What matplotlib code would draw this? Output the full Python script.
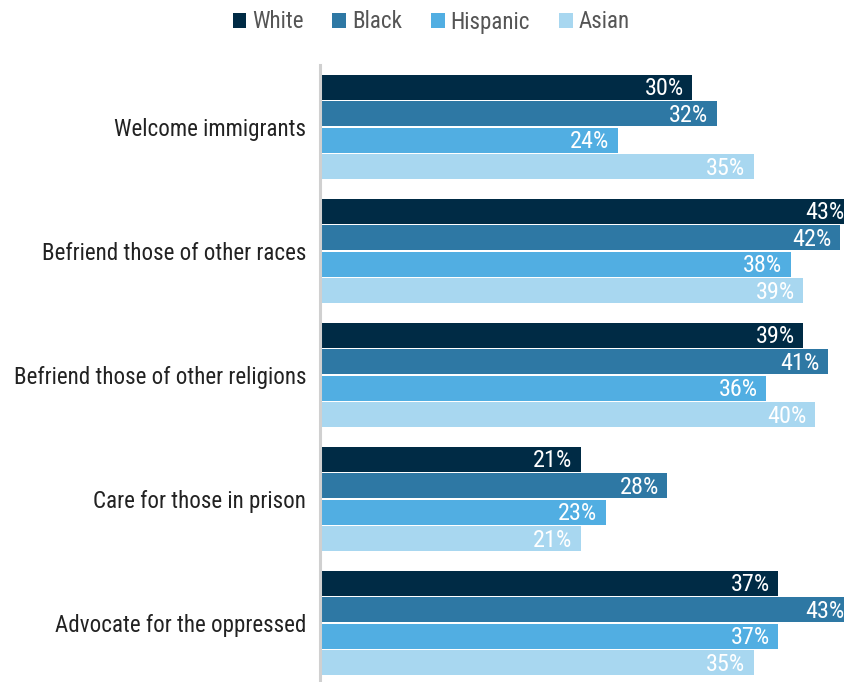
import matplotlib
matplotlib.use("Agg")
import matplotlib.pyplot as plt
import numpy as np

plt.rcParams["font.family"] = ["Roboto Condensed", "DejaVu Sans"]

categories = [
    "Welcome immigrants",
    "Befriend those of other races",
    "Befriend those of other religions",
    "Care for those in prison",
    "Advocate for the oppressed",
]
series = ["White", "Black", "Hispanic", "Asian"]
white = [30, 43, 39, 21, 37]
black = [32, 42, 41, 28, 43]
hispanic = [24, 38, 36, 23, 37]
asian = [35, 39, 40, 21, 35]
colors = ["#002b45", "#2e78a4", "#51aee2", "#a8d7f0"]

values = [white, black, hispanic, asian]

fig = plt.figure(figsize=(8.45, 6.82), dpi=100)
ax = fig.add_axes([322 / 845, 0, 1 - 322 / 845, 617 / 682])

pitch = 0.2137
height = 0.2
y = np.arange(len(categories))
for j, (name, vals, col) in enumerate(zip(series, values, colors)):
    pos = y + (j - 1.5) * pitch
    bars = ax.barh(pos, vals, height=height, color=col, label=name)
    for b, v in zip(bars, vals):
        ax.text(b.get_width() - 0.68, b.get_y() + b.get_height() / 2 + 0.012, f"{v}%",
                ha="right", va="center", color="white", fontsize=17.5)

ax.set_xlim(0, 42.4)
ax.set_ylim(4.475, -0.5012)
ax.set_yticks(y, categories)
ax.tick_params(axis="y", length=0, pad=10, labelsize=16.6, labelcolor="#222222")
ax.set_xticks([])
for s in ["top", "right", "bottom"]:
    ax.spines[s].set_visible(False)
ax.spines["left"].set_color("#d0d0d0")
ax.spines["left"].set_linewidth(2.2)
ax.spines["left"].set_position(("outward", 1.5))

fig.legend(loc="center", bbox_to_anchor=(431 / 845, 1 - 22 / 682), ncol=4, frameon=False,
           fontsize=16.6, handlelength=0.6, handleheight=0.6, handletextpad=0.25,
           columnspacing=1.25, labelcolor="#555555")

fig.savefig("out.png", dpi=100)
